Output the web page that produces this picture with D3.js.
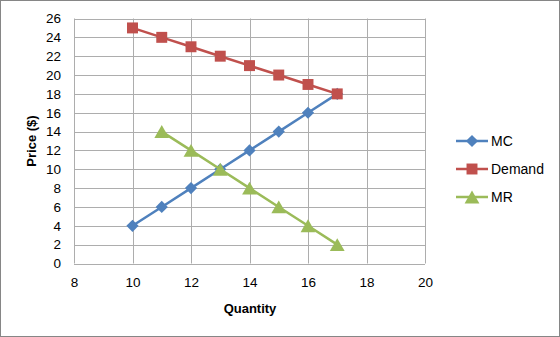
<!DOCTYPE html>
<html>
<head>
<meta charset="utf-8">
<script src="https://cdnjs.cloudflare.com/ajax/libs/d3/7.8.5/d3.min.js"></script>
<style>
  body { margin: 0; background: #fff; }
  text { font-family: "Liberation Sans", Arial, sans-serif; fill: #000; }
</style>
</head>
<body>
<div id="chart"></div>
<script>
// data
var mcQty = [10, 11, 12, 13, 14, 15, 16, 17];
var mcPrice = [4, 6, 8, 10, 12, 14, 16, 18];
var demandQty = [10, 11, 12, 13, 14, 15, 16, 17];
var demandPrice = [25, 24, 23, 22, 21, 20, 19, 18];
var mrQty = [11, 12, 13, 14, 15, 16, 17];
var mrPrice = [14, 12, 10, 8, 6, 4, 2];
var xTicks = [8, 10, 12, 14, 16, 18, 20];
var yTicks = [0, 2, 4, 6, 8, 10, 12, 14, 16, 18, 20, 22, 24, 26];

var series = [
  { name: "MC", color: "#4F81BD", marker: "diamond", qty: mcQty, price: mcPrice },
  { name: "Demand", color: "#C0504D", marker: "square", qty: demandQty, price: demandPrice },
  { name: "MR", color: "#9BBB59", marker: "triangle", qty: mrQty, price: mrPrice }
];

var W = 560, H = 337;
var svg = d3.select("#chart").append("svg")
  .attr("width", W).attr("height", H);

// outer frame
svg.append("rect")
  .attr("x", 0.5).attr("y", 0.5)
  .attr("width", W - 1).attr("height", H - 1)
  .attr("fill", "#fff").attr("stroke", "#868686").attr("stroke-width", 1);

var x = d3.scaleLinear().domain([8, 20]).range([74, 425]);
var y = d3.scaleLinear().domain([0, 26]).range([263.5, 18.5]);

// gridlines
svg.append("g").selectAll("line.v").data(xTicks).enter().append("line")
  .attr("x1", function(d) { return Math.round(x(d)) + 0.5; })
  .attr("x2", function(d) { return Math.round(x(d)) + 0.5; })
  .attr("y1", y(26)).attr("y2", y(0))
  .attr("stroke", "#adadad");

svg.append("g").selectAll("line.h").data(yTicks).enter().append("line")
  .attr("y1", function(d) { return Math.round(y(d)) + 0.5; })
  .attr("y2", function(d) { return Math.round(y(d)) + 0.5; })
  .attr("x1", x(8)).attr("x2", x(20))
  .attr("stroke", "#adadad");

// axes (labels only, Excel style)
var xAxis = svg.append("g")
  .attr("transform", "translate(0," + (y(0) + 2) + ")")
  .call(d3.axisBottom(x).tickValues(xTicks).tickSize(0).tickPadding(12));
var yAxis = svg.append("g")
  .attr("transform", "translate(" + (x(8) - 3) + ",0)")
  .call(d3.axisLeft(y).tickValues(yTicks).tickSize(0).tickPadding(10));
[xAxis, yAxis].forEach(function(a) {
  a.select(".domain").remove();
  a.selectAll("text").attr("font-size", 13.5).attr("font-family", "Liberation Sans, Arial, sans-serif").attr("fill", "#000");
});

// axis titles
svg.append("text")
  .attr("x", 250).attr("y", 313)
  .attr("text-anchor", "middle")
  .attr("font-size", 13).attr("font-weight", "bold")
  .text("Quantity");
svg.append("text")
  .attr("transform", "translate(36,141) rotate(-90)")
  .attr("text-anchor", "middle")
  .attr("font-size", 13).attr("font-weight", "bold")
  .text("Price ($)");

function markerPath(type) {
  if (type == "diamond") return d3.symbol().type(d3.symbolDiamond2).size(95)();
  if (type == "square") return d3.symbol().type(d3.symbolSquare).size(120)();
  return d3.symbol().type(d3.symbolTriangle).size(95)();
}
// d3 centres the triangle on its centroid; nudge it so the box is centred
function markerShift(type) {
  return type == "triangle" ? 2.1 : 0;
}

var line = d3.line()
  .x(function(d) { return x(d[0]); })
  .y(function(d) { return y(d[1]); });

series.forEach(function(s) {
  var pts = s.qty.map(function(q, i) { return [q, s.price[i]]; });
  var g = svg.append("g");
  g.append("path")
    .attr("d", line(pts))
    .attr("fill", "none")
    .attr("stroke", s.color)
    .attr("stroke-width", 2.5);
  g.selectAll("path.m").data(pts).enter().append("path")
    .attr("class", "m")
    .attr("d", markerPath(s.marker))
    .attr("transform", function(d) { return "translate(" + x(d[0]) + "," + (y(d[1]) + markerShift(s.marker)) + ")"; })
    .attr("fill", s.color);
});

// legend
var legend = svg.append("g");
series.forEach(function(s, i) {
  var ly = 141 + i * 28;
  legend.append("line")
    .attr("x1", 456).attr("x2", 488)
    .attr("y1", ly).attr("y2", ly)
    .attr("stroke", s.color).attr("stroke-width", 2.5);
  legend.append("path")
    .attr("d", markerPath(s.marker))
    .attr("transform", "translate(472," + (ly + markerShift(s.marker)) + ")")
    .attr("fill", s.color);
  legend.append("text")
    .attr("x", 491).attr("y", ly + 5)
    .attr("font-size", 14)
    .text(s.name);
});
</script>
</body>
</html>
